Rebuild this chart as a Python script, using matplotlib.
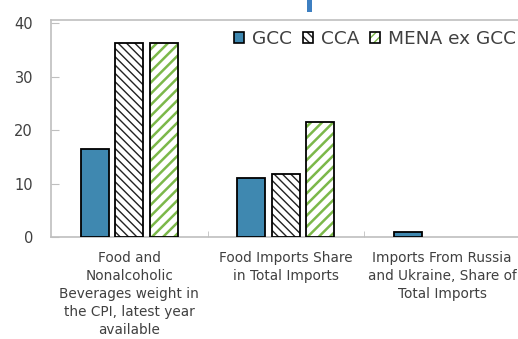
import matplotlib
matplotlib.use("Agg")
import matplotlib.pyplot as plt
from matplotlib.patches import Patch, Rectangle
from matplotlib.legend_handler import HandlerTuple
import numpy as np

categories = ["Food and\nNonalcoholic\nBeverages weight in\nthe CPI, latest year\navailable",
              "Food Imports Share\nin Total Imports",
              "Imports From Russia\nand Ukraine, Share of\nTotal Imports"]
series_names = ["GCC", "CCA", "MENA ex GCC"]
gcc = [16.4, 11.1, 1.0]
cca = [36.3, 11.7, np.nan]
mena = [36.3, 21.5, np.nan]

TXT = "#404040"
SPINE = "#bfbfbf"
BLUE = "#3f88b0"
GREEN = "#7cb84a"

fig = plt.figure(figsize=(5.18, 3.39), dpi=100)
ax = fig.add_axes([51/518, 1-237/339, 469.5/518, 217/339])

x = np.arange(len(categories))
w = 0.18
off = 0.22

ax.bar(x - off, gcc, w, color=BLUE, edgecolor="black", linewidth=1.3, zorder=3)

with plt.rc_context({"hatch.linewidth": 1.0}):
    ax.bar(x, cca, w, color="white", edgecolor="#222222", linewidth=0, hatch="\\\\\\\\", zorder=3)
ax.bar(x, cca, w, color="none", edgecolor="black", linewidth=1.3, zorder=4)

with plt.rc_context({"hatch.linewidth": 1.8}):
    ax.bar(x + off, mena, w, color="white", edgecolor=GREEN, linewidth=0, hatch="///", zorder=3)
ax.bar(x + off, mena, w, color="none", edgecolor="black", linewidth=1.3, zorder=4)

ax.set_xlim(-0.5, 2.5)
ax.set_ylim(0, 40.6)
ax.set_yticks([0, 10, 20, 30, 40])
ax.tick_params(axis="y", direction="in", length=6, pad=13, colors=SPINE,
               labelcolor=TXT, labelsize=10.5)
ax.set_xticks(x)
ax.set_xticklabels(categories, fontsize=9.8, color=TXT, linespacing=1.36)
ax.tick_params(axis="x", which="major", length=0, pad=10)
ax.set_xticks([0.5, 1.5], minor=True)
ax.tick_params(axis="x", which="minor", direction="in", length=4, color=SPINE)

for s in ["left", "bottom", "top", "right"]:
    ax.spines[s].set_color(SPINE)
    ax.spines[s].set_linewidth(1.2)

with plt.rc_context({"hatch.linewidth": 1.0}):
    h_cca = Patch(facecolor="white", edgecolor="#222222", linewidth=0, hatch="\\\\\\\\")
with plt.rc_context({"hatch.linewidth": 1.6}):
    h_mena = Patch(facecolor="white", edgecolor=GREEN, linewidth=0, hatch="////")
h_gcc = Patch(facecolor=BLUE, edgecolor="black", linewidth=1.2)
border1 = Patch(facecolor="none", edgecolor="black", linewidth=1.2)
border2 = Patch(facecolor="none", edgecolor="black", linewidth=1.2)

leg = ax.legend([h_gcc, (h_cca, border1), (h_mena, border2)], series_names,
                handler_map={tuple: HandlerTuple(ndivide=1)},
                loc="center right", bbox_to_anchor=((516-51)/469.5, (237-39)/217),
                ncol=3, frameon=False, fontsize=13.3, handlelength=0.55, handleheight=0.55,
                handletextpad=0.45, columnspacing=0.55, borderpad=0, borderaxespad=0)
for t in leg.get_texts():
    t.set_color(TXT)

fig.patches.append(Rectangle((307/518, 1-12/339), 5/518, 12/339, transform=fig.transFigure,
                             facecolor="#3d7fc1", edgecolor="none"))

fig.savefig("out.png", dpi=100)
